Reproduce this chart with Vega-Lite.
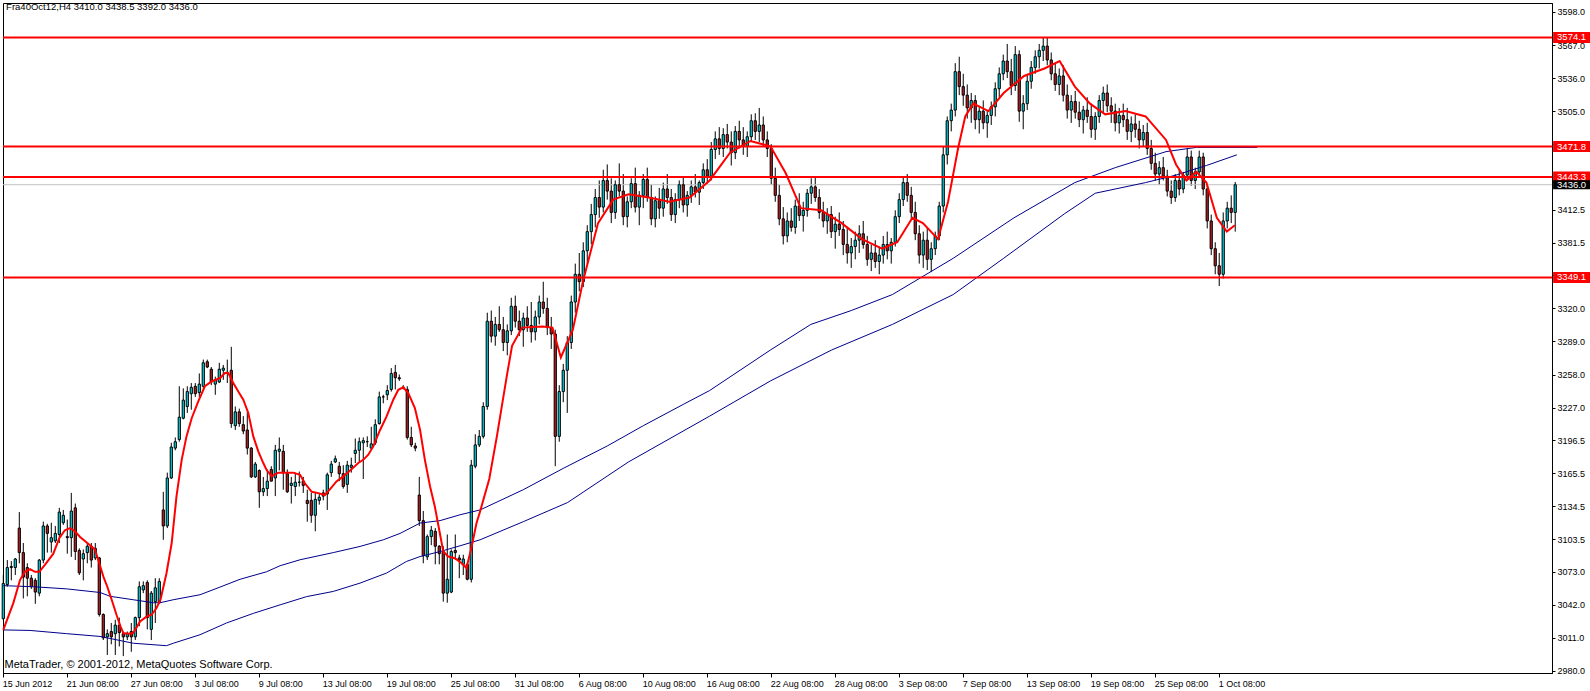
{
  "$schema": "https://vega.github.io/schema/vega-lite/v6.json",
  "width": 1549,
  "height": 670,
  "autosize": {"type": "none"},
  "padding": {"left": 3, "top": 3, "right": 38, "bottom": 18},
  "background": "white",
  "config": {"view": {"stroke": "black", "strokeWidth": 1}, "font": "Liberation Sans", "scale": {"continuousPadding": 0}, "axis": {"labelOverlap": false}},
  "resolve": {"axis": {"x": "independent", "y": "independent"}},
  "datasets": {
    "candles": [
      {"i":0,"o":3029,"h":3070,"l":3028,"c":3062},{"i":1,"o":3061,"h":3084,"l":3059,"c":3077},{"i":2,"o":3077,"h":3083,"l":3065,"c":3078},{"i":3,"o":3077,"h":3086,"l":3070,"c":3085},
      {"i":4,"o":3114,"h":3129,"l":3081,"c":3091},{"i":5,"o":3091,"h":3100,"l":3048,"c":3068},{"i":6,"o":3077,"h":3081,"l":3050,"c":3067},{"i":7,"o":3067,"h":3070,"l":3057,"c":3059},
      {"i":8,"o":3065,"h":3067,"l":3043,"c":3054},{"i":9,"o":3053,"h":3085,"l":3050,"c":3084},{"i":10,"o":3084,"h":3120,"l":3081,"c":3116},{"i":11,"o":3116,"h":3118,"l":3091,"c":3109},
      {"i":12,"o":3101,"h":3119,"l":3091,"c":3105},{"i":13,"o":3102,"h":3116,"l":3100,"c":3109},{"i":14,"o":3108,"h":3133,"l":3100,"c":3129},{"i":15,"o":3119,"h":3131,"l":3117,"c":3126},
      {"i":16,"o":3106,"h":3122,"l":3090,"c":3105},{"i":17,"o":3105,"h":3147,"l":3087,"c":3130},{"i":18,"o":3133,"h":3137,"l":3084,"c":3092},{"i":19,"o":3093,"h":3095,"l":3070,"c":3072},
      {"i":20,"o":3085,"h":3094,"l":3065,"c":3090},{"i":21,"o":3091,"h":3100,"l":3081,"c":3097},{"i":22,"o":3097,"h":3100,"l":3077,"c":3084},{"i":23,"o":3086,"h":3100,"l":3084,"c":3095},
      {"i":24,"o":3086,"h":3087,"l":3031,"c":3033},{"i":25,"o":3033,"h":3034,"l":3009,"c":3011},{"i":26,"o":3012,"h":3019,"l":2995,"c":3015},{"i":27,"o":3017,"h":3025,"l":3005,"c":3012},
      {"i":28,"o":3015,"h":3028,"l":2995,"c":3023},{"i":29,"o":3023,"h":3030,"l":3003,"c":3016},{"i":30,"o":3015,"h":3017,"l":2994,"c":3012},{"i":31,"o":3012,"h":3017,"l":3009,"c":3015},
      {"i":32,"o":3017,"h":3025,"l":2998,"c":3012},{"i":33,"o":3012,"h":3031,"l":3009,"c":3030},{"i":34,"o":3030,"h":3064,"l":3022,"c":3059},{"i":35,"o":3056,"h":3064,"l":3053,"c":3060},
      {"i":36,"o":3063,"h":3065,"l":3019,"c":3030},{"i":37,"o":3019,"h":3055,"l":3009,"c":3053},{"i":38,"o":3045,"h":3067,"l":3025,"c":3058},{"i":39,"o":3044,"h":3067,"l":3043,"c":3064},
      {"i":40,"o":3131,"h":3148,"l":3103,"c":3116},{"i":41,"o":3116,"h":3166,"l":3114,"c":3161},{"i":42,"o":3161,"h":3194,"l":3160,"c":3190},{"i":43,"o":3189,"h":3199,"l":3187,"c":3195},
      {"i":44,"o":3197,"h":3247,"l":3195,"c":3218},{"i":45,"o":3217,"h":3245,"l":3216,"c":3234},{"i":46,"o":3228,"h":3247,"l":3222,"c":3242},{"i":47,"o":3240,"h":3250,"l":3225,"c":3246},
      {"i":48,"o":3247,"h":3250,"l":3237,"c":3240},{"i":49,"o":3241,"h":3259,"l":3237,"c":3249},{"i":50,"o":3247,"h":3272,"l":3245,"c":3269},{"i":51,"o":3270,"h":3272,"l":3264,"c":3265},
      {"i":52,"o":3263,"h":3265,"l":3248,"c":3251},{"i":53,"o":3249,"h":3256,"l":3239,"c":3253},{"i":54,"o":3251,"h":3269,"l":3250,"c":3263},{"i":55,"o":3262,"h":3267,"l":3253,"c":3264},
      {"i":56,"o":3260,"h":3272,"l":3250,"c":3260},{"i":57,"o":3262,"h":3284,"l":3208,"c":3212},{"i":58,"o":3210,"h":3228,"l":3206,"c":3223},{"i":59,"o":3223,"h":3226,"l":3209,"c":3212},
      {"i":60,"o":3211,"h":3219,"l":3202,"c":3205},{"i":61,"o":3206,"h":3223,"l":3183,"c":3189},{"i":62,"o":3189,"h":3190,"l":3161,"c":3162},{"i":63,"o":3162,"h":3176,"l":3161,"c":3174},
      {"i":64,"o":3168,"h":3169,"l":3133,"c":3148},{"i":65,"o":3148,"h":3162,"l":3144,"c":3151},{"i":66,"o":3151,"h":3169,"l":3144,"c":3158},{"i":67,"o":3169,"h":3172,"l":3158,"c":3158},
      {"i":68,"o":3161,"h":3192,"l":3144,"c":3187},{"i":69,"o":3186,"h":3199,"l":3168,"c":3188},{"i":70,"o":3186,"h":3192,"l":3150,"c":3166},{"i":71,"o":3165,"h":3169,"l":3147,"c":3148},
      {"i":72,"o":3154,"h":3162,"l":3137,"c":3156},{"i":73,"o":3153,"h":3166,"l":3144,"c":3157},{"i":74,"o":3157,"h":3167,"l":3153,"c":3157},{"i":75,"o":3158,"h":3162,"l":3147,"c":3154},
      {"i":76,"o":3140,"h":3150,"l":3120,"c":3137},{"i":77,"o":3140,"h":3147,"l":3119,"c":3126},{"i":78,"o":3126,"h":3147,"l":3111,"c":3141},{"i":79,"o":3140,"h":3147,"l":3136,"c":3143},
      {"i":80,"o":3147,"h":3150,"l":3140,"c":3144},{"i":81,"o":3146,"h":3166,"l":3131,"c":3164},{"i":82,"o":3166,"h":3177,"l":3162,"c":3174},{"i":83,"o":3176,"h":3182,"l":3175,"c":3179},
      {"i":84,"o":3172,"h":3176,"l":3158,"c":3165},{"i":85,"o":3165,"h":3173,"l":3151,"c":3153},{"i":86,"o":3155,"h":3177,"l":3147,"c":3173},{"i":87,"o":3171,"h":3180,"l":3166,"c":3173},
      {"i":88,"o":3184,"h":3198,"l":3175,"c":3187},{"i":89,"o":3187,"h":3199,"l":3176,"c":3195},{"i":90,"o":3194,"h":3199,"l":3160,"c":3196},{"i":91,"o":3195,"h":3200,"l":3190,"c":3195},
      {"i":92,"o":3189,"h":3209,"l":3188,"c":3193},{"i":93,"o":3194,"h":3216,"l":3192,"c":3211},{"i":94,"o":3212,"h":3242,"l":3211,"c":3237},{"i":95,"o":3237,"h":3239,"l":3231,"c":3237},
      {"i":96,"o":3239,"h":3248,"l":3234,"c":3243},{"i":97,"o":3244,"h":3264,"l":3242,"c":3259},{"i":98,"o":3260,"h":3267,"l":3244,"c":3255},{"i":99,"o":3255,"h":3258,"l":3252,"c":3254},
      {"i":100,"o":3246,"h":3248,"l":3244,"c":3246},{"i":101,"o":3244,"h":3247,"l":3197,"c":3199},{"i":102,"o":3199,"h":3209,"l":3190,"c":3192},{"i":103,"o":3191,"h":3194,"l":3186,"c":3189},
      {"i":104,"o":3145,"h":3162,"l":3116,"c":3121},{"i":105,"o":3121,"h":3130,"l":3081,"c":3088},{"i":106,"o":3087,"h":3108,"l":3084,"c":3106},{"i":107,"o":3106,"h":3116,"l":3098,"c":3112},
      {"i":108,"o":3111,"h":3114,"l":3080,"c":3097},{"i":109,"o":3097,"h":3098,"l":3080,"c":3090},{"i":110,"o":3092,"h":3097,"l":3045,"c":3053},{"i":111,"o":3053,"h":3108,"l":3044,"c":3066},
      {"i":112,"o":3054,"h":3094,"l":3053,"c":3092},{"i":113,"o":3093,"h":3108,"l":3084,"c":3091},{"i":114,"o":3086,"h":3089,"l":3067,"c":3084},{"i":115,"o":3080,"h":3089,"l":3070,"c":3085},
      {"i":116,"o":3080,"h":3081,"l":3065,"c":3066},{"i":117,"o":3066,"h":3178,"l":3063,"c":3173},{"i":118,"o":3172,"h":3202,"l":3170,"c":3192},{"i":119,"o":3192,"h":3206,"l":3190,"c":3200},
      {"i":120,"o":3200,"h":3232,"l":3198,"c":3228},{"i":121,"o":3228,"h":3316,"l":3225,"c":3308},{"i":122,"o":3308,"h":3318,"l":3288,"c":3294},{"i":123,"o":3294,"h":3312,"l":3285,"c":3305},
      {"i":124,"o":3305,"h":3322,"l":3298,"c":3300},{"i":125,"o":3300,"h":3312,"l":3280,"c":3288},{"i":126,"o":3288,"h":3305,"l":3276,"c":3299},{"i":127,"o":3299,"h":3330,"l":3295,"c":3322},
      {"i":128,"o":3322,"h":3332,"l":3302,"c":3308},{"i":129,"o":3308,"h":3318,"l":3294,"c":3300},{"i":130,"o":3300,"h":3316,"l":3284,"c":3311},{"i":131,"o":3311,"h":3322,"l":3298,"c":3304},
      {"i":132,"o":3304,"h":3326,"l":3288,"c":3298},{"i":133,"o":3298,"h":3318,"l":3290,"c":3312},{"i":134,"o":3312,"h":3332,"l":3305,"c":3326},{"i":135,"o":3326,"h":3345,"l":3315,"c":3320},
      {"i":136,"o":3320,"h":3330,"l":3295,"c":3302},{"i":137,"o":3302,"h":3312,"l":3282,"c":3296},{"i":138,"o":3296,"h":3300,"l":3172,"c":3200},{"i":139,"o":3200,"h":3248,"l":3195,"c":3242},
      {"i":140,"o":3242,"h":3268,"l":3232,"c":3262},{"i":141,"o":3262,"h":3294,"l":3222,"c":3288},{"i":142,"o":3288,"h":3332,"l":3282,"c":3326},{"i":143,"o":3326,"h":3362,"l":3316,"c":3352},
      {"i":144,"o":3352,"h":3372,"l":3336,"c":3345},{"i":145,"o":3345,"h":3382,"l":3340,"c":3374},{"i":146,"o":3374,"h":3398,"l":3362,"c":3392},{"i":147,"o":3392,"h":3418,"l":3380,"c":3408},
      {"i":148,"o":3408,"h":3432,"l":3396,"c":3424},{"i":149,"o":3424,"h":3440,"l":3405,"c":3415},{"i":150,"o":3415,"h":3450,"l":3410,"c":3440},{"i":151,"o":3440,"h":3455,"l":3422,"c":3430},
      {"i":152,"o":3430,"h":3442,"l":3400,"c":3410},{"i":153,"o":3410,"h":3440,"l":3404,"c":3436},{"i":154,"o":3436,"h":3456,"l":3425,"c":3430},{"i":155,"o":3430,"h":3446,"l":3398,"c":3406},
      {"i":156,"o":3406,"h":3425,"l":3396,"c":3420},{"i":157,"o":3420,"h":3442,"l":3414,"c":3437},{"i":158,"o":3437,"h":3452,"l":3410,"c":3415},{"i":159,"o":3415,"h":3430,"l":3398,"c":3426},
      {"i":160,"o":3426,"h":3446,"l":3414,"c":3441},{"i":161,"o":3441,"h":3452,"l":3420,"c":3424},{"i":162,"o":3424,"h":3436,"l":3398,"c":3404},{"i":163,"o":3404,"h":3425,"l":3396,"c":3421},
      {"i":164,"o":3421,"h":3433,"l":3404,"c":3414},{"i":165,"o":3414,"h":3438,"l":3406,"c":3432},{"i":166,"o":3432,"h":3446,"l":3418,"c":3424},{"i":167,"o":3424,"h":3432,"l":3402,"c":3408},
      {"i":168,"o":3408,"h":3428,"l":3400,"c":3422},{"i":169,"o":3422,"h":3440,"l":3414,"c":3436},{"i":170,"o":3436,"h":3444,"l":3410,"c":3417},{"i":171,"o":3417,"h":3430,"l":3406,"c":3426},
      {"i":172,"o":3426,"h":3440,"l":3419,"c":3434},{"i":173,"o":3434,"h":3446,"l":3424,"c":3429},{"i":174,"o":3429,"h":3440,"l":3417,"c":3438},{"i":175,"o":3438,"h":3456,"l":3432,"c":3450},
      {"i":176,"o":3450,"h":3460,"l":3437,"c":3444},{"i":177,"o":3444,"h":3476,"l":3440,"c":3469},{"i":178,"o":3469,"h":3486,"l":3460,"c":3479},{"i":179,"o":3479,"h":3490,"l":3464,"c":3470},
      {"i":180,"o":3470,"h":3489,"l":3462,"c":3483},{"i":181,"o":3483,"h":3493,"l":3470,"c":3476},{"i":182,"o":3476,"h":3486,"l":3454,"c":3466},{"i":183,"o":3466,"h":3491,"l":3460,"c":3486},
      {"i":184,"o":3486,"h":3496,"l":3470,"c":3478},{"i":185,"o":3478,"h":3490,"l":3464,"c":3472},{"i":186,"o":3472,"h":3486,"l":3462,"c":3481},{"i":187,"o":3481,"h":3502,"l":3476,"c":3496},
      {"i":188,"o":3496,"h":3503,"l":3478,"c":3486},{"i":189,"o":3486,"h":3508,"l":3476,"c":3492},{"i":190,"o":3492,"h":3500,"l":3472,"c":3478},{"i":191,"o":3478,"h":3486,"l":3462,"c":3470},
      {"i":192,"o":3470,"h":3474,"l":3436,"c":3442},{"i":193,"o":3442,"h":3452,"l":3420,"c":3426},{"i":194,"o":3426,"h":3436,"l":3398,"c":3404},{"i":195,"o":3404,"h":3415,"l":3380,"c":3388},
      {"i":196,"o":3388,"h":3410,"l":3382,"c":3402},{"i":197,"o":3402,"h":3414,"l":3392,"c":3396},{"i":198,"o":3396,"h":3422,"l":3390,"c":3416},{"i":199,"o":3416,"h":3428,"l":3402,"c":3407},
      {"i":200,"o":3407,"h":3420,"l":3392,"c":3412},{"i":201,"o":3412,"h":3432,"l":3406,"c":3428},{"i":202,"o":3428,"h":3442,"l":3418,"c":3434},{"i":203,"o":3434,"h":3444,"l":3420,"c":3424},
      {"i":204,"o":3424,"h":3432,"l":3404,"c":3410},{"i":205,"o":3410,"h":3420,"l":3396,"c":3402},{"i":206,"o":3402,"h":3414,"l":3390,"c":3408},{"i":207,"o":3408,"h":3416,"l":3386,"c":3392},
      {"i":208,"o":3392,"h":3406,"l":3376,"c":3399},{"i":209,"o":3399,"h":3410,"l":3388,"c":3394},{"i":210,"o":3394,"h":3402,"l":3370,"c":3380},{"i":211,"o":3380,"h":3396,"l":3362,"c":3372},
      {"i":212,"o":3372,"h":3386,"l":3358,"c":3378},{"i":213,"o":3378,"h":3392,"l":3366,"c":3384},{"i":214,"o":3384,"h":3398,"l":3372,"c":3390},{"i":215,"o":3390,"h":3402,"l":3376,"c":3380},
      {"i":216,"o":3380,"h":3388,"l":3360,"c":3366},{"i":217,"o":3366,"h":3380,"l":3355,"c":3372},{"i":218,"o":3372,"h":3384,"l":3358,"c":3364},{"i":219,"o":3364,"h":3378,"l":3352,"c":3370},
      {"i":220,"o":3370,"h":3388,"l":3362,"c":3380},{"i":221,"o":3380,"h":3392,"l":3366,"c":3374},{"i":222,"o":3374,"h":3386,"l":3362,"c":3382},{"i":223,"o":3382,"h":3412,"l":3378,"c":3406},
      {"i":224,"o":3406,"h":3428,"l":3400,"c":3422},{"i":225,"o":3422,"h":3444,"l":3416,"c":3438},{"i":226,"o":3438,"h":3446,"l":3420,"c":3426},{"i":227,"o":3426,"h":3434,"l":3404,"c":3410},
      {"i":228,"o":3410,"h":3420,"l":3384,"c":3390},{"i":229,"o":3390,"h":3398,"l":3362,"c":3370},{"i":230,"o":3370,"h":3392,"l":3358,"c":3384},{"i":231,"o":3384,"h":3396,"l":3356,"c":3366},
      {"i":232,"o":3366,"h":3382,"l":3354,"c":3376},{"i":233,"o":3376,"h":3392,"l":3370,"c":3388},{"i":234,"o":3388,"h":3420,"l":3384,"c":3416},{"i":235,"o":3416,"h":3472,"l":3410,"c":3464},
      {"i":236,"o":3464,"h":3500,"l":3455,"c":3496},{"i":237,"o":3496,"h":3512,"l":3486,"c":3506},{"i":238,"o":3506,"h":3550,"l":3500,"c":3542},{"i":239,"o":3542,"h":3556,"l":3520,"c":3528},
      {"i":240,"o":3528,"h":3540,"l":3510,"c":3520},{"i":241,"o":3520,"h":3530,"l":3498,"c":3508},{"i":242,"o":3508,"h":3522,"l":3494,"c":3515},{"i":243,"o":3515,"h":3520,"l":3488,"c":3497},
      {"i":244,"o":3497,"h":3510,"l":3484,"c":3505},{"i":245,"o":3505,"h":3515,"l":3488,"c":3494},{"i":246,"o":3494,"h":3506,"l":3480,"c":3501},{"i":247,"o":3501,"h":3514,"l":3492,"c":3509},
      {"i":248,"o":3509,"h":3532,"l":3500,"c":3526},{"i":249,"o":3526,"h":3546,"l":3518,"c":3540},{"i":250,"o":3540,"h":3558,"l":3534,"c":3552},{"i":251,"o":3552,"h":3568,"l":3536,"c":3542},
      {"i":252,"o":3542,"h":3554,"l":3520,"c":3529},{"i":253,"o":3529,"h":3566,"l":3524,"c":3558},{"i":254,"o":3558,"h":3562,"l":3495,"c":3505},{"i":255,"o":3505,"h":3520,"l":3488,"c":3512},
      {"i":256,"o":3512,"h":3540,"l":3506,"c":3533},{"i":257,"o":3533,"h":3552,"l":3526,"c":3546},{"i":258,"o":3546,"h":3562,"l":3540,"c":3556},{"i":259,"o":3556,"h":3568,"l":3545,"c":3562},
      {"i":260,"o":3562,"h":3574,"l":3552,"c":3566},{"i":261,"o":3566,"h":3574,"l":3548,"c":3553},{"i":262,"o":3553,"h":3560,"l":3534,"c":3540},{"i":263,"o":3540,"h":3550,"l":3524,"c":3530},
      {"i":264,"o":3530,"h":3545,"l":3520,"c":3538},{"i":265,"o":3538,"h":3548,"l":3514,"c":3520},{"i":266,"o":3520,"h":3530,"l":3498,"c":3506},{"i":267,"o":3506,"h":3520,"l":3494,"c":3514},
      {"i":268,"o":3514,"h":3524,"l":3498,"c":3504},{"i":269,"o":3504,"h":3514,"l":3490,"c":3497},{"i":270,"o":3497,"h":3510,"l":3484,"c":3506},{"i":271,"o":3506,"h":3518,"l":3494,"c":3500},
      {"i":272,"o":3500,"h":3512,"l":3480,"c":3488},{"i":273,"o":3488,"h":3504,"l":3478,"c":3500},{"i":274,"o":3500,"h":3520,"l":3494,"c":3515},{"i":275,"o":3515,"h":3528,"l":3504,"c":3522},
      {"i":276,"o":3522,"h":3530,"l":3504,"c":3510},{"i":277,"o":3510,"h":3518,"l":3494,"c":3505},{"i":278,"o":3505,"h":3512,"l":3486,"c":3494},{"i":279,"o":3494,"h":3508,"l":3484,"c":3501},
      {"i":280,"o":3501,"h":3512,"l":3490,"c":3497},{"i":281,"o":3497,"h":3508,"l":3478,"c":3486},{"i":282,"o":3486,"h":3500,"l":3476,"c":3493},{"i":283,"o":3493,"h":3502,"l":3480,"c":3488},
      {"i":284,"o":3488,"h":3496,"l":3470,"c":3478},{"i":285,"o":3478,"h":3492,"l":3472,"c":3485},{"i":286,"o":3485,"h":3494,"l":3464,"c":3470},{"i":287,"o":3470,"h":3478,"l":3450,"c":3456},
      {"i":288,"o":3456,"h":3466,"l":3440,"c":3446},{"i":289,"o":3446,"h":3458,"l":3436,"c":3452},{"i":290,"o":3452,"h":3462,"l":3440,"c":3444},{"i":291,"o":3444,"h":3450,"l":3425,"c":3430},
      {"i":292,"o":3430,"h":3440,"l":3418,"c":3424},{"i":293,"o":3424,"h":3446,"l":3420,"c":3440},{"i":294,"o":3440,"h":3450,"l":3426,"c":3432},{"i":295,"o":3432,"h":3448,"l":3428,"c":3445},
      {"i":296,"o":3445,"h":3470,"l":3440,"c":3462},{"i":297,"o":3462,"h":3468,"l":3435,"c":3440},{"i":298,"o":3440,"h":3452,"l":3432,"c":3448},{"i":299,"o":3448,"h":3468,"l":3444,"c":3462},
      {"i":300,"o":3462,"h":3466,"l":3426,"c":3432},{"i":301,"o":3432,"h":3436,"l":3395,"c":3402},{"i":302,"o":3402,"h":3408,"l":3370,"c":3376},{"i":303,"o":3376,"h":3382,"l":3352,"c":3360},
      {"i":304,"o":3360,"h":3372,"l":3341,"c":3352},{"i":305,"o":3352,"h":3410,"l":3348,"c":3402},{"i":306,"o":3402,"h":3420,"l":3395,"c":3414},{"i":307,"o":3414,"h":3426,"l":3400,"c":3410},
      {"i":308,"o":3410,"h":3438.5,"l":3392,"c":3436}
    ],
    "ma": [
      {"i":0,"v":3018.5},{"i":2.5,"v":3043.6},{"i":4.2,"v":3065.5},{"i":5.4,"v":3073},{"i":6.7,"v":3075.5},{"i":7.9,"v":3073},{"i":9,"v":3073},{"i":10.4,"v":3079.6},{"i":12.5,"v":3090},{"i":14,"v":3104.6},{"i":15.4,"v":3112},{"i":16.7,"v":3114},{"i":17.9,"v":3111},{"i":19.2,"v":3105.6},{"i":21,"v":3100},{"i":22.9,"v":3094},{"i":24,"v":3081},{"i":25,"v":3068.7},{"i":26,"v":3059},{"i":27.1,"v":3046.8},{"i":28.3,"v":3032.7},{"i":29.3,"v":3021.8},{"i":30,"v":3015.5},{"i":31.25,"v":3015},{"i":32.5,"v":3015.5},{"i":34.2,"v":3026.5},{"i":35.8,"v":3031},{"i":37.1,"v":3032.7},{"i":38.3,"v":3039},{"i":39.3,"v":3046.8},{"i":40.8,"v":3071.6},{"i":42.1,"v":3100},{"i":43.3,"v":3143.7},{"i":44.6,"v":3178},{"i":45.8,"v":3200},{"i":47.1,"v":3217},{"i":48.75,"v":3232.8},{"i":50.4,"v":3247},{"i":52.1,"v":3251.5},{"i":54.2,"v":3254.7},{"i":55.4,"v":3259.4},{"i":56.25,"v":3259.4},{"i":57.5,"v":3250},{"i":58.75,"v":3242},{"i":60,"v":3234.4},{"i":61.25,"v":3221.9},{"i":62.5,"v":3200},{"i":63.75,"v":3186},{"i":65,"v":3175},{"i":65.8,"v":3168.7},{"i":67.1,"v":3162.5},{"i":68.75,"v":3166},{"i":70.8,"v":3166},{"i":72.5,"v":3166},{"i":74.2,"v":3164},{"i":75.4,"v":3156},{"i":77.1,"v":3148},{"i":78.75,"v":3146.8},{"i":80.4,"v":3145},{"i":81.7,"v":3150.6},{"i":83.3,"v":3157.8},{"i":85,"v":3162.5},{"i":86.7,"v":3168},{"i":88.75,"v":3175},{"i":90,"v":3178},{"i":91.25,"v":3182.8},{"i":92.5,"v":3190.6},{"i":94.2,"v":3206},{"i":95.8,"v":3218.5},{"i":97.5,"v":3234.4},{"i":98.75,"v":3243.7},{"i":100,"v":3246},{"i":101.25,"v":3240.6},{"i":102.9,"v":3226.5},{"i":104.2,"v":3206},{"i":105.4,"v":3178},{"i":106.7,"v":3153},{"i":107.9,"v":3134},{"i":109,"v":3112},{"i":110,"v":3092},{"i":111.25,"v":3087.3},{"i":112.9,"v":3085.7},{"i":114.6,"v":3081},{"i":115.8,"v":3076.5},{"i":117.1,"v":3096.6},{"i":118.3,"v":3118.5},{"i":119.2,"v":3129.6},
      {"i":121.5,"v":3160},{"i":123.4,"v":3200},{"i":125.9,"v":3257},{"i":127.2,"v":3285},{"i":129.7,"v":3302},{"i":134.8,"v":3303},{"i":137.3,"v":3302},{"i":139.4,"v":3274},{"i":142.4,"v":3300},{"i":144.9,"v":3345},{"i":148.7,"v":3400},{"i":152.5,"v":3422},{"i":156.3,"v":3427},{"i":161.4,"v":3424},{"i":166.5,"v":3420},{"i":171.6,"v":3424},{"i":176.6,"v":3440},{"i":181.7,"v":3466},{"i":186.8,"v":3477},{"i":191.8,"v":3472},{"i":195.6,"v":3447},{"i":199.4,"v":3414},{"i":204.5,"v":3412},{"i":209.6,"v":3400},{"i":214.7,"v":3385},{"i":219.7,"v":3376},{"i":223.5,"v":3382},{"i":227.3,"v":3405},{"i":229.9,"v":3400},{"i":233.7,"v":3385},{"i":236.2,"v":3420},{"i":238.7,"v":3470},{"i":240.5,"v":3500},{"i":242.5,"v":3512},{"i":246.3,"v":3505},{"i":250.1,"v":3522},{"i":255.2,"v":3538},{"i":260.3,"v":3545},{"i":264.1,"v":3552},{"i":267.9,"v":3528},{"i":271.7,"v":3512},{"i":275.5,"v":3502},{"i":280.6,"v":3505},{"i":285.6,"v":3500},{"i":290.7,"v":3478},{"i":293.2,"v":3455},{"i":295.8,"v":3440},{"i":298.3,"v":3448},{"i":300.8,"v":3438},{"i":303.4,"v":3405},{"i":305.9,"v":3392},{"i":307.9,"v":3398}
    ],
    "blue": [
      {"s":"u","i":0,"v":3060},{"s":"u","i":7.5,"v":3059},{"s":"u","i":15.8,"v":3057},{"s":"u","i":24.2,"v":3053.6},{"s":"u","i":26.7,"v":3050},{"s":"u","i":32.5,"v":3046.8},{"s":"u","i":37.5,"v":3044},{"s":"u","i":39.2,"v":3044},{"s":"u","i":42.5,"v":3046.8},{"s":"u","i":49.2,"v":3051.5},{"s":"u","i":54.2,"v":3058.7},{"s":"u","i":59.2,"v":3066},{"s":"u","i":65.8,"v":3073},{"s":"u","i":69.2,"v":3078.7},{"s":"u","i":74.2,"v":3084.3},{"s":"u","i":82.5,"v":3091},{"s":"u","i":89.2,"v":3096.8},{"s":"u","i":95,"v":3103},{"s":"u","i":99.2,"v":3109},{"s":"u","i":104.2,"v":3118.7},{"s":"u","i":109.2,"v":3121},{"s":"u","i":114.2,"v":3126.5},{"s":"u","i":119.2,"v":3131},
      {"s":"u","i":130,"v":3150},{"s":"u","i":140,"v":3170},{"s":"u","i":151,"v":3191},{"s":"u","i":160,"v":3210},{"s":"u","i":170,"v":3230},{"s":"u","i":176.6,"v":3243},{"s":"u","i":191.8,"v":3281},{"s":"u","i":201.9,"v":3305},{"s":"u","i":212,"v":3318},{"s":"u","i":222.3,"v":3333},{"s":"u","i":237.5,"v":3367},{"s":"u","i":252.7,"v":3405},{"s":"u","i":267.9,"v":3438},{"s":"u","i":278,"v":3452},{"s":"u","i":290.7,"v":3467},{"s":"u","i":298.3,"v":3471},{"s":"u","i":313.5,"v":3471},
      {"s":"d","i":0,"v":3018.5},{"s":"d","i":6.7,"v":3018},{"s":"d","i":15.8,"v":3015},{"s":"d","i":24.2,"v":3012.4},{"s":"d","i":32.5,"v":3006},{"s":"d","i":40.8,"v":3003.7},{"s":"d","i":42.5,"v":3006},{"s":"d","i":49.2,"v":3014},{"s":"d","i":55.8,"v":3025},{"s":"d","i":62.5,"v":3034},{"s":"d","i":69.2,"v":3042},{"s":"d","i":75.8,"v":3049.7},{"s":"d","i":82.5,"v":3054.6},{"s":"d","i":89.2,"v":3062.4},{"s":"d","i":95.8,"v":3071.8},{"s":"d","i":100.8,"v":3082.7},{"s":"d","i":104.2,"v":3087.3},{"s":"d","i":109.2,"v":3092},{"s":"d","i":114.2,"v":3097.4},{"s":"d","i":119.2,"v":3103},
      {"s":"d","i":130,"v":3120},{"s":"d","i":141.1,"v":3138},{"s":"d","i":156.3,"v":3176},{"s":"d","i":176.6,"v":3219},{"s":"d","i":191.8,"v":3252},{"s":"d","i":207.1,"v":3281},{"s":"d","i":222.3,"v":3305},{"s":"d","i":237.5,"v":3333},{"s":"d","i":250.1,"v":3367},{"s":"d","i":265.4,"v":3409},{"s":"d","i":273,"v":3428},{"s":"d","i":285.6,"v":3438},{"s":"d","i":293.2,"v":3445},{"s":"d","i":300.8,"v":3454},{"s":"d","i":308.4,"v":3464}
    ],
    "levels": [
      {"p":3574.1,"t":"3574.1"},{"p":3471.8,"t":"3471.8"},{"p":3443.3,"t":"3443.3"},{"p":3349.1,"t":"3349.1"}
    ],
    "current": [{"p":3436.0,"t":"3436.0"}],
    "notes": [{"t":"Fra40Oct12,H4  3410.0 3438.5 3392.0 3436.0","k":"top"},{"t":"MetaTrader, © 2001-2012, MetaQuotes Software Corp.","k":"bottom"}]
  },
  "layer": [
    {
      "data": {"name": "candles"},
      "mark": {"type": "rule", "color": "black", "strokeWidth": 1},
      "encoding": {
        "x": {"field": "i", "type": "quantitative", "title": null, "scale": {"domain": [-0.075, 387.2], "nice": false, "zero": false, "padding": 0},
          "axis": {"title": null, "grid": false, "values": [0,16,32,48,64,80,96,112,128,144,160,176,192,208,224,240,256,272,288,304],
            "labelExpr": "['15 Jun 2012','21 Jun 08:00','27 Jun 08:00','3 Jul 08:00','9 Jul 08:00','13 Jul 08:00','19 Jul 08:00','25 Jul 08:00','31 Jul 08:00','6 Aug 08:00','10 Aug 08:00','16 Aug 08:00','22 Aug 08:00','28 Aug 08:00','3 Sep 08:00','7 Sep 08:00','13 Sep 08:00','19 Sep 08:00','25 Sep 08:00','1 Oct 08:00'][round(datum.value/16)]",
            "labelAlign": "left", "labelBaseline": "top", "labelFont": "Liberation Sans", "labelFontSize": 9, "labelColor": "black", "labelPadding": 2, "labelOffset": -1, "tickColor": "black", "tickSize": 4, "domainColor": "black", "labelOverlap": false, "labelBound": false, "labelFlush": false}},
        "y": {"field": "l", "type": "quantitative", "title": null, "scale": {"domain": [2978.1, 3606.4], "nice": false, "zero": false, "padding": 0},
          "axis": {"orient": "right", "title": null, "grid": false, "values": [2980, 3011, 3042, 3073, 3103.5, 3134.5, 3165.5, 3196.5, 3227, 3258, 3289, 3320, 3351, 3381.5, 3412.5, 3443.5, 3474, 3505, 3536, 3567, 3598],
            "format": ".1f", "labelFont": "Liberation Sans", "labelFontSize": 9, "labelColor": "black", "tickColor": "black", "tickSize": 3, "domainColor": "black", "labelPadding": 2, "labelOverlap": false, "labelSeparation": -40, "labelBound": false, "labelFlush": false}},
        "y2": {"field": "h"}
      }
    },
    {
      "data": {"name": "current"},
      "mark": {"type": "rule", "color": "#C0C0C0", "strokeWidth": 1},
      "encoding": {"y": {"field": "p", "type": "quantitative", "axis": null}}
    },
    {
      "data": {"name": "candles"},
      "mark": {"type": "bar", "width": 2.2, "stroke": "black", "strokeWidth": 1},
      "encoding": {
        "x": {"field": "i", "type": "quantitative", "axis": null},
        "y": {"field": "o", "type": "quantitative", "axis": null},
        "y2": {"field": "c"},
        "fill": {"condition": {"test": "datum.c >= datum.o", "value": "#00D2DC"}, "value": "#B82020"}
      }
    },
    {
      "data": {"name": "blue"},
      "mark": {"type": "line", "color": "#00008B", "strokeWidth": 1},
      "encoding": {
        "x": {"field": "i", "type": "quantitative", "axis": null},
        "y": {"field": "v", "type": "quantitative", "axis": null},
        "detail": {"field": "s"}
      }
    },
    {
      "data": {"name": "ma"},
      "mark": {"type": "line", "color": "#FF0000", "strokeWidth": 2},
      "encoding": {
        "x": {"field": "i", "type": "quantitative", "axis": null},
        "y": {"field": "v", "type": "quantitative", "axis": null}
      }
    },
    {
      "data": {"name": "levels"},
      "mark": {"type": "rule", "color": "#FF0000", "strokeWidth": 2},
      "encoding": {"y": {"field": "p", "type": "quantitative", "axis": null}}
    },
    {
      "data": {"name": "levels"},
      "mark": {"type": "tick", "orient": "horizontal", "thickness": 11, "size": 37, "color": "#FF0000", "opacity": 1},
      "encoding": {"x": {"datum": 392.1, "type": "quantitative", "axis": null}, "y": {"field": "p", "type": "quantitative", "axis": null}}
    },
    {
      "data": {"name": "current"},
      "mark": {"type": "tick", "orient": "horizontal", "thickness": 9, "size": 37, "color": "black", "opacity": 1},
      "encoding": {"x": {"datum": 392.1, "type": "quantitative", "axis": null}, "y": {"field": "p", "type": "quantitative", "axis": null}}
    },
    {
      "data": {"name": "levels"},
      "mark": {"type": "text", "color": "white", "font": "Liberation Sans", "fontSize": 9.5, "align": "center", "baseline": "middle"},
      "encoding": {"x": {"datum": 392.1, "type": "quantitative", "axis": null}, "y": {"field": "p", "type": "quantitative", "axis": null}, "text": {"field": "t"}}
    },
    {
      "data": {"name": "current"},
      "mark": {"type": "text", "color": "white", "font": "Liberation Sans", "fontSize": 9.5, "align": "center", "baseline": "middle"},
      "encoding": {"x": {"datum": 392.1, "type": "quantitative", "axis": null}, "y": {"field": "p", "type": "quantitative", "axis": null}, "text": {"field": "t"}}
    },
    {
      "data": {"name": "notes"},
      "transform": [{"filter": "datum.k == 'top'"}],
      "mark": {"type": "text", "color": "black", "font": "Liberation Sans", "fontSize": 9.5, "align": "left", "baseline": "alphabetic"},
      "encoding": {"x": {"datum": 0.7, "type": "quantitative", "axis": null}, "y": {"datum": 3599.5, "type": "quantitative", "axis": null}, "text": {"field": "t"}}
    },
    {
      "data": {"name": "notes"},
      "transform": [{"filter": "datum.k == 'bottom'"}],
      "mark": {"type": "text", "color": "black", "font": "Liberation Sans", "fontSize": 11, "align": "left", "baseline": "alphabetic"},
      "encoding": {"x": {"datum": 0.3, "type": "quantitative", "axis": null}, "y": {"datum": 2983, "type": "quantitative", "axis": null}, "text": {"field": "t"}}
    }
  ]
}
